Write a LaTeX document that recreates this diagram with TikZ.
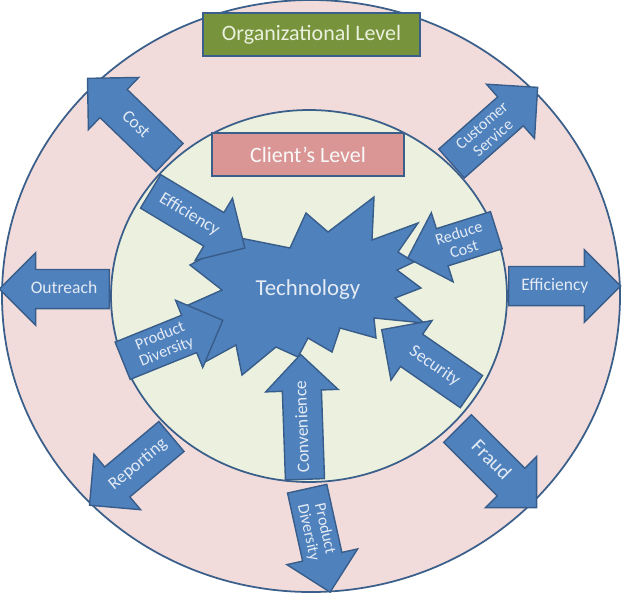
\documentclass[tikz,border=0pt]{standalone}
\usepackage{fontspec}
\setmainfont{Carlito}
\usepackage{xcolor}
\definecolor{outerPink}{HTML}{F2DCDB}
\definecolor{innerGreen}{HTML}{EBF1DE}
\definecolor{edgeBlue}{HTML}{3A5F8B}
\definecolor{arrowBlue}{HTML}{4F81BD}
\definecolor{arrowEdge}{HTML}{385D8A}
\definecolor{orgGreen}{HTML}{77933C}
\definecolor{clientRose}{HTML}{D99694}
\definecolor{labelWhite}{HTML}{E4EBF5}
\usepackage{tikz}
\usetikzlibrary{shapes.arrows}

\begin{document}
\begin{tikzpicture}[x=0.02cm, y=-0.02cm,
    every node/.style={font=\fontsize{10}{10.5}\selectfont},
    ring/.style={draw=edgeBlue, line width=1pt},
    lvl/.style={draw=edgeBlue, line width=1pt, minimum width=#1,
                minimum height=0.86cm, inner sep=0pt,
                font=\fontsize{12.5}{13}\selectfont},
    blk/.style={single arrow, draw=arrowEdge, fill=arrowBlue, line width=0.8pt,
                text=labelWhite, minimum width=1.45cm,
                single arrow head extend=0.3cm, inner xsep=2pt,
                minimum height=#1, anchor=tail},
    oneline/.style={text height=7.4pt, text depth=2.2pt, inner ysep=4.8pt},
    twoline/.style={align=center, inner ysep=1.5pt,
                    font=\fontsize{9.2}{9.6}\selectfont}]
  \useasboundingbox (0,0) rectangle (625,610);
  \path[ring, fill=outerPink] (311,296) ellipse [x radius=309, y radius=296];
  \path[ring, fill=innerGreen] (309,296) ellipse [x radius=198, y radius=186];
  \node[lvl=4.34cm, fill=orgGreen, text=innerGreen] (org) at (311.5,34.5) {Organizational Level};
  \node[lvl=3.84cm, fill=clientRose, text=white!95!gray] (client) at (308,154.5) {Client's Level};
  \node[blk=2.28cm, oneline, rotate=-44, shape border rotate=180] (cost) at (170,158) {Cost};
  \node[blk=2.30cm, twoline, rotate=41.5] (service) at (451,164) {Customer\\Service};
  \node[blk=2.20cm, oneline, rotate=0, shape border rotate=180] (outreach) at (110,289) {Outreach};
  \node[blk=2.24cm, oneline, rotate=0] (effout) at (508,286) {Efficiency};
  \node[blk=2.14cm, oneline, rotate=40, shape border rotate=180] (reporting) at (172,436) {Reporting};
  \node[blk=2.12cm, twoline, rotate=-77.5] (divout) at (307,488) {Product\\Diversity};
  \node[blk=2.24cm, oneline, rotate=-45, font=\fontsize{11.5}{12}\selectfont] (fraud) at (457,428) {Fraud};
  \path[draw=arrowEdge, fill=arrowBlue, line width=0.8pt]
    (190,265) -- (240,238) -- (290,248) -- (306,213) -- (328,232) -- (374,197)
    -- (372,240) -- (418,223) -- (398,252) -- (414,262) -- (397,270) -- (421,288)
    -- (395,298) -- (424,323) -- (374,318) -- (376,338) -- (340,328) -- (332,352)
    -- (308,338) -- (298,357) -- (276,347) -- (242,375) -- (236,345) -- (205,362)
    -- (215,320) -- (186,306) -- (222,290) -- cycle;
  \node[text=labelWhite, font=\fontsize{13}{14}\selectfont] (tech) at (308,290) {Technology};
  \node[blk=2.20cm, oneline, rotate=-31] (effin) at (150,191) {Efficiency};
  \node[blk=2.16cm, twoline, rotate=22] (divin) at (122,361) {Product\\Diversity};
  \node[blk=2.50cm, oneline, rotate=92] (convenience) at (305,480) {Convenience};
  \node[blk=2.18cm, oneline, rotate=-34.6, shape border rotate=180] (security) at (472,392) {Security};
  \node[blk=1.86cm, twoline, rotate=17.5, shape border rotate=180] (reduce) at (497,230) {Reduce\\Cost};
\end{tikzpicture}
\end{document}
